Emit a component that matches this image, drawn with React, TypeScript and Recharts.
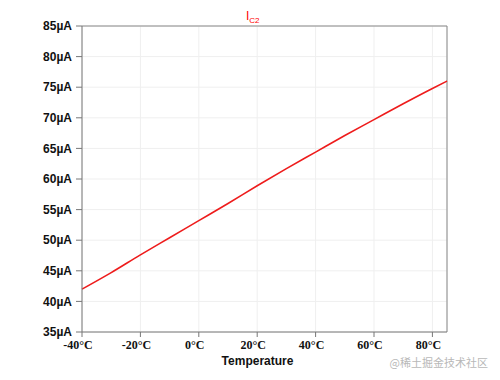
import React from 'react';
import { LineChart, Line, XAxis, YAxis, CartesianGrid, ReferenceLine } from 'recharts';

// temperature (°C) and collector current I_C2 (µA)
const temps = [-40, -30, -20, -10, 0, 10, 20, 30, 40, 50, 60, 70, 80, 85];
const ic2 = [42.0, 44.7, 47.6, 50.4, 53.2, 56.0, 58.9, 61.7, 64.4, 67.1, 69.7, 72.3, 74.8, 76.0];

const xTicks = [-40, -20, 0, 20, 40, 60, 80];
const yTicks = [35, 40, 45, 50, 55, 60, 65, 70, 75, 80, 85];

const data = temps.map((t, i) => ({ t, ic2: ic2[i] }));

const App: React.FC = () => {
  return (
    <div style={{ position: 'absolute', left: 0, top: 0, width: 500, height: 380, background: '#fff' }}>
      <LineChart width={500} height={380} data={data} margin={{ top: 26, right: 53, bottom: 14, left: 0 }}>
        <CartesianGrid stroke="#efefef" />
        <XAxis
          type="number"
          dataKey="t"
          domain={[-40, 85]}
          ticks={xTicks}
          height={34}
          tickSize={5}
          tickMargin={3}
          stroke="#777"
          tick={{ fontSize: 12, fontWeight: 'bold', fontFamily: 'Liberation Serif', fill: '#111', dx: -4 }}
          tickFormatter={(v) => `${v}°C`}
          label={{
            value: 'Temperature',
            position: 'insideBottom',
            offset: 1,
            dx: -7,
            style: { fontSize: 12, fontWeight: 'bold', fontFamily: 'Liberation Sans', fill: '#111' }
          }}
        />
        <YAxis
          type="number"
          domain={[35, 85]}
          ticks={yTicks}
          width={82}
          tickSize={6}
          tickMargin={4}
          stroke="#777"
          tick={{ fontSize: 12, fontWeight: 'bold', fontFamily: 'Liberation Sans', fill: '#111' }}
          tickFormatter={(v) => `${v}µA`}
        />
        <ReferenceLine y={85} stroke="#888" />
        <ReferenceLine x={85} stroke="#888" />
        <Line
          type="monotone"
          dataKey="ic2"
          stroke="#ee1c1c"
          strokeWidth={1.6}
          dot={false}
          isAnimationActive={false}
        />
      </LineChart>
      {/* title */}
      <div style={{ position: 'absolute', left: 246, top: 9, color: '#f00', fontFamily: 'Liberation Sans', fontSize: 12, lineHeight: '14px' }}>
        I<sub style={{ fontSize: 8 }}>C2</sub>
      </div>
      {/* watermark */}
      <div style={{ position: 'absolute', right: 12, top: 354, color: '#b8b8b8', fontFamily: 'Noto Sans CJK SC', fontSize: 11 }}>
        @稀土掘金技术社区
      </div>
    </div>
  );
};

export default App;
